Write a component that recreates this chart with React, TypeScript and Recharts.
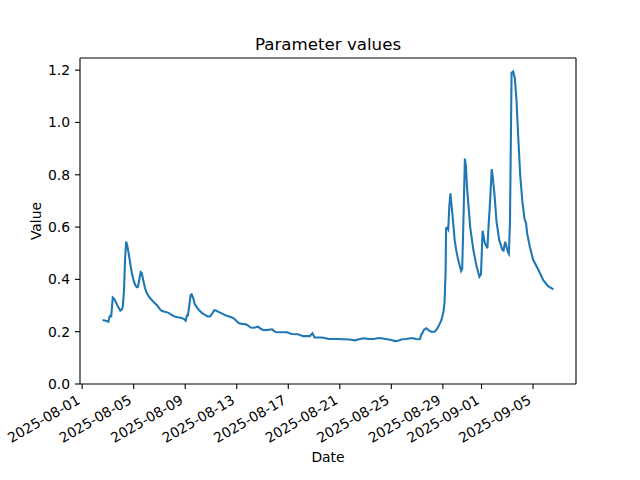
import React from "react";
import { LineChart, Line, XAxis, YAxis, ReferenceLine } from "recharts";

const timestamps = [
  "2025-08-02 14:00","2025-08-02 18:00","2025-08-02 23:00","2025-08-03 01:00","2025-08-03 03:00","2025-08-03 05:00","2025-08-03 06:00","2025-08-03 09:00","2025-08-03 12:00","2025-08-03 15:00","2025-08-03 19:00","2025-08-03 23:00",
  "2025-08-04 02:00","2025-08-04 04:00","2025-08-04 06:00","2025-08-04 08:00","2025-08-04 10:00","2025-08-04 12:00","2025-08-04 15:00","2025-08-04 18:00","2025-08-04 21:00",
  "2025-08-05 00:00","2025-08-05 03:00","2025-08-05 06:00","2025-08-05 08:00","2025-08-05 10:00","2025-08-05 13:00","2025-08-05 15:00","2025-08-05 18:00","2025-08-05 21:00",
  "2025-08-06 00:00","2025-08-06 04:00","2025-08-06 08:00","2025-08-06 12:00","2025-08-06 16:00","2025-08-06 20:00",
  "2025-08-07 00:00","2025-08-07 04:00","2025-08-07 10:00","2025-08-07 16:00","2025-08-07 22:00",
  "2025-08-08 04:00","2025-08-08 10:00","2025-08-08 16:00","2025-08-08 22:00",
  "2025-08-09 01:00","2025-08-09 03:00","2025-08-09 05:00","2025-08-09 07:00","2025-08-09 10:00","2025-08-09 12:00","2025-08-09 15:00","2025-08-09 18:00","2025-08-09 22:00",
  "2025-08-10 02:00","2025-08-10 07:00","2025-08-10 12:00","2025-08-10 18:00","2025-08-10 22:00",
  "2025-08-11 02:00","2025-08-11 06:00","2025-08-11 10:00","2025-08-11 15:00","2025-08-11 20:00",
  "2025-08-12 02:00","2025-08-12 08:00","2025-08-12 14:00","2025-08-12 19:00",
  "2025-08-13 00:00","2025-08-13 04:00","2025-08-13 10:00","2025-08-13 16:00","2025-08-13 22:00",
  "2025-08-14 02:00","2025-08-14 08:00","2025-08-14 16:00","2025-08-14 20:00",
  "2025-08-15 02:00","2025-08-15 10:00","2025-08-15 18:00",
  "2025-08-16 00:00","2025-08-16 10:00","2025-08-16 22:00",
  "2025-08-17 06:00","2025-08-17 18:00",
  "2025-08-18 04:00","2025-08-18 16:00","2025-08-18 21:00",
  "2025-08-19 01:00","2025-08-19 12:00","2025-08-19 18:00",
  "2025-08-20 03:00","2025-08-20 18:00",
  "2025-08-21 07:00","2025-08-21 18:00",
  "2025-08-22 04:00","2025-08-22 12:00","2025-08-22 20:00",
  "2025-08-23 06:00","2025-08-23 15:00",
  "2025-08-24 00:00","2025-08-24 08:00","2025-08-24 16:00",
  "2025-08-25 00:00","2025-08-25 07:00","2025-08-25 14:00","2025-08-25 20:00",
  "2025-08-26 04:00","2025-08-26 14:00","2025-08-26 22:00",
  "2025-08-27 05:00","2025-08-27 08:00","2025-08-27 10:00","2025-08-27 13:00","2025-08-27 17:00","2025-08-27 22:00",
  "2025-08-28 03:00","2025-08-28 09:00","2025-08-28 13:00","2025-08-28 17:00","2025-08-28 21:00",
  "2025-08-29 01:00","2025-08-29 03:00","2025-08-29 05:00","2025-08-29 06:00","2025-08-29 08:00","2025-08-29 10:00","2025-08-29 12:00","2025-08-29 14:00","2025-08-29 18:00","2025-08-29 22:00",
  "2025-08-30 01:00","2025-08-30 04:00","2025-08-30 07:00","2025-08-30 10:00","2025-08-30 12:00","2025-08-30 14:00","2025-08-30 17:00","2025-08-30 19:00","2025-08-30 21:00",
  "2025-08-31 03:00","2025-08-31 09:00","2025-08-31 15:00","2025-08-31 20:00","2025-08-31 23:00",
  "2025-09-01 02:00","2025-09-01 06:00","2025-09-01 11:00","2025-09-01 13:00","2025-09-01 16:00","2025-09-01 19:00","2025-09-01 21:00",
  "2025-09-02 00:00","2025-09-02 04:00","2025-09-02 09:00","2025-09-02 15:00","2025-09-02 17:00","2025-09-02 20:00","2025-09-02 22:00",
  "2025-09-03 01:00","2025-09-03 03:00","2025-09-03 05:00","2025-09-03 07:00","2025-09-03 08:00","2025-09-03 11:00","2025-09-03 14:00","2025-09-03 17:00","2025-09-03 20:00",
  "2025-09-04 00:00","2025-09-04 04:00","2025-09-04 08:00","2025-09-04 11:00","2025-09-04 13:00","2025-09-04 18:00",
  "2025-09-05 00:00","2025-09-05 10:00","2025-09-05 19:00",
  "2025-09-06 04:00","2025-09-06 14:00",
];

const values = [
  0.245,0.243,0.240,0.238,0.258,0.262,0.255,0.331,0.325,0.312,0.295,0.280,
  0.285,0.300,0.360,0.480,0.545,0.530,0.495,0.455,0.420,
  0.395,0.378,0.370,0.372,0.395,0.428,0.425,0.395,0.368,
  0.350,0.335,0.325,0.316,0.308,0.300,
  0.288,0.280,0.276,0.273,0.265,
  0.258,0.255,0.253,0.248,
  0.242,0.262,0.262,0.290,0.340,0.343,0.328,0.305,0.292,
  0.282,0.272,0.265,0.258,0.258,
  0.268,0.282,0.280,0.275,0.270,
  0.264,0.259,0.255,0.250,
  0.240,0.232,0.230,0.229,0.222,
  0.216,0.215,0.219,0.212,
  0.206,0.207,0.209,
  0.199,0.198,0.198,
  0.191,0.190,
  0.183,0.183,0.194,
  0.178,0.178,0.177,
  0.172,0.172,
  0.171,0.170,
  0.167,0.171,0.175,
  0.172,0.172,
  0.176,0.174,0.171,
  0.168,0.164,0.166,0.171,
  0.172,0.176,0.172,
  0.171,0.190,0.195,0.208,0.213,0.205,
  0.199,0.201,0.210,0.225,0.243,
  0.275,0.310,0.420,0.595,0.598,0.591,0.680,0.729,0.645,0.550,
  0.510,0.480,0.455,0.432,0.440,0.600,0.862,0.830,0.750,
  0.598,0.510,0.448,0.410,0.420,
  0.586,0.540,0.519,0.600,0.700,0.822,0.790,
  0.728,0.620,0.550,0.512,0.510,0.544,0.530,
  0.505,0.498,0.620,1.000,1.190,1.195,1.170,1.090,0.960,
  0.800,0.700,0.633,0.614,0.576,0.525,
  0.476,0.436,0.397,
  0.374,0.362,
];

const xTickLabels = [
  "2025-08-01","2025-08-05","2025-08-09","2025-08-13","2025-08-17",
  "2025-08-21","2025-08-25","2025-08-29","2025-09-01","2025-09-05",
];
const yTicks = [0, 0.2, 0.4, 0.6, 0.8, 1.0, 1.2];

const TITLE = "Parameter values";
const X_LABEL = "Date";
const Y_LABEL = "Value";

const EPOCH = Date.UTC(2025, 7, 1);
function toDay(s: string): number {
  const [date, time = "00:00"] = s.split(" ");
  const [y, m, d] = date.split("-").map(Number);
  const [hh, mm] = time.split(":").map(Number);
  return (Date.UTC(y, m - 1, d, hh, mm) - EPOCH) / 86400000;
}

const data = timestamps.map((t, i) => ({ t: toDay(t), v: values[i] }));
const xTicks = xTickLabels.map((l) => toDay(l));
const labelByTick: Record<string, string> = {};
xTickLabels.forEach((l, i) => (labelByTick[String(xTicks[i])] = l));

const tMin = Math.min(...data.map((d) => d.t));
const tMax = Math.max(...data.map((d) => d.t));
const xPad = (tMax - tMin) * 0.05;
const xLo = tMin - xPad;
const xHi = tMax + xPad;
const vMin = Math.min(...values);
const vMax = Math.max(...values);
const yTop = vMax + (vMax - vMin) * 0.05;

const FONT = "DejaVu Sans, sans-serif";
const FS = 13.9;

const DateTick = (props: any) => {
  const { x, y, payload } = props;
  const px = x - 1;
  const py = y + 9;
  return (
    <text
      x={px}
      y={py}
      textAnchor="end"
      transform={`rotate(-30, ${px}, ${py})`}
      fontSize={FS}
      fontFamily={FONT}
      fill="#000"
    >
      {labelByTick[String(payload.value)] ?? ""}
    </text>
  );
};

export default function App() {
  return (
    <div style={{ position: "absolute", left: 0, top: 0, width: 640, height: 480, background: "#fff" }}>
      <LineChart
        width={640}
        height={480}
        data={data}
        margin={{ top: 58, right: 64, bottom: 0, left: 0 }}
        style={{ fontFamily: FONT }}
      >
        <XAxis
          dataKey="t"
          type="number"
          domain={[xLo, xHi]}
          ticks={xTicks}
          interval={0}
          allowDataOverflow
          height={96}
          tickSize={5}
          tickMargin={4.9}
          tick={<DateTick />}
          axisLine={{ stroke: "#000", strokeWidth: 1.1 }}
          tickLine={{ stroke: "#000", strokeWidth: 1.1 }}
        />
        <YAxis
          type="number"
          domain={[0, yTop]}
          ticks={yTicks}
          interval={0}
          allowDataOverflow
          width={80}
          tickSize={5}
          tickMargin={4.9}
          tickFormatter={(v: number) => v.toFixed(1)}
          tick={{ fill: "#000", fontSize: FS, fontFamily: FONT }}
          axisLine={{ stroke: "#000", strokeWidth: 1.1 }}
          tickLine={{ stroke: "#000", strokeWidth: 1.1 }}
        />
        <ReferenceLine y={yTop} stroke="#000" strokeWidth={1.1} ifOverflow="visible" />
        <ReferenceLine x={xHi} stroke="#000" strokeWidth={1.1} ifOverflow="visible" />
        <Line
          dataKey="v"
          type="linear"
          stroke="#1f77b4"
          strokeWidth={2.08}
          dot={false}
          activeDot={false}
          isAnimationActive={false}
        />
      </LineChart>
      <svg
        width={640}
        height={480}
        style={{ position: "absolute", left: 0, top: 0, pointerEvents: "none" }}
      >
        <text x={328} y={50} textAnchor="middle" fontSize={16.67} fontFamily={FONT} fill="#000">
          {TITLE}
        </text>
        <text x={328} y={462} textAnchor="middle" fontSize={FS} fontFamily={FONT} fill="#000">
          {X_LABEL}
        </text>
        <text
          x={41}
          y={221}
          textAnchor="middle"
          transform="rotate(-90, 41, 221)"
          fontSize={FS}
          fontFamily={FONT}
          fill="#000"
        >
          {Y_LABEL}
        </text>
      </svg>
    </div>
  );
}
